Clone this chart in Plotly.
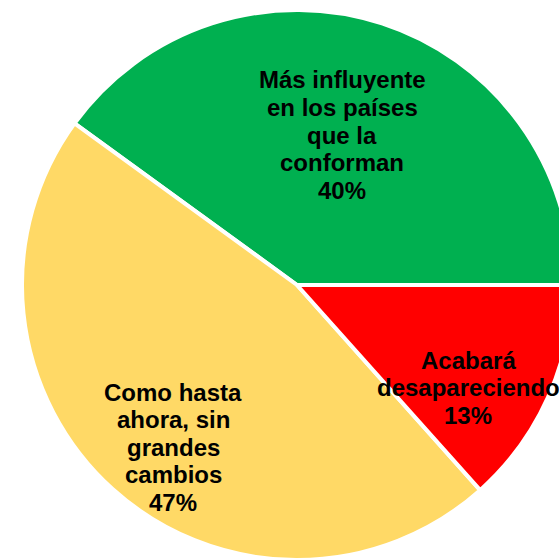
"""
Pie chart: opinion about the future of the union
"""

import plotly.graph_objects as go

# data
labels = ["Más influyente en los países que la conforman",
          "Como hasta ahora, sin grandes cambios",
          "Acabará desapareciendo"]
values = [40, 46.6, 13.4]
colors = ["#00B050", "#FFD966", "#FF0000"]

# label text split in lines, as in the picture
label_lines = [["Más influyente", "en los países", "que la", "conforman"],
               ["Como hasta", "ahora, sin", "grandes", "cambios"],
               ["Acabará", "desapareciendo"]]
# pixel centre of the first line of each label
label_pos = [(342, 80), (173, 392), (468, 360)]
line_step = 27.6

W, H = 580, 570
L, T, SIZE = 22, 10, 550

fig = go.Figure(go.Pie(
    labels=labels,
    values=values,
    marker=dict(colors=colors, line=dict(color="white", width=4)),
    sort=False,
    direction="counterclockwise",
    rotation=-54,
    textinfo="none",
    hoverinfo="label+percent",
    showlegend=False,
))

total = sum(values)
for lines, val, (px, py) in zip(label_lines, values, label_pos):
    # add the percentage as the last line
    all_lines = lines + [f"{round(100 * val / total)}%"]
    for i, txt in enumerate(all_lines):
        y_px = py + i * line_step
        fig.add_annotation(
            text=txt,
            x=(px - L) / SIZE,
            y=1 - (y_px - T) / SIZE,
            xref="paper", yref="paper",
            xanchor="center", yanchor="middle",
            showarrow=False,
            font=dict(family="Liberation Sans, Arial", size=24,
                      color="black", weight="bold"),
        )

fig.update_layout(
    width=W,
    height=H,
    margin=dict(l=L, r=W - L - SIZE, t=T, b=H - T - SIZE),
    paper_bgcolor="white",
    plot_bgcolor="white",
)

fig.write_html(
    "out.html",
    config={"displayModeBar": False},
    post_script="document.body.style.margin='0';"
                "document.body.style.overflow='hidden';"
                "document.documentElement.style.overflow='hidden';",
)
